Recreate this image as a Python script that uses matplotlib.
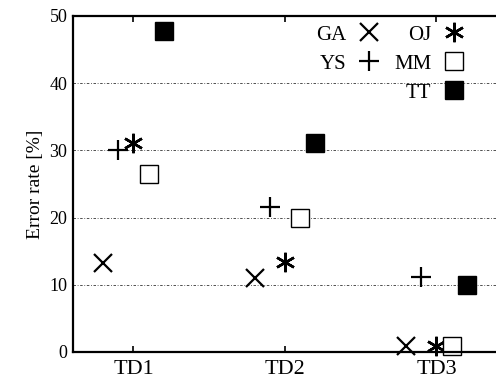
import numpy as np
import matplotlib
matplotlib.use('Agg')
import matplotlib.pyplot as plt
from matplotlib.lines import Line2D

plt.rcParams['font.family'] = ['Liberation Serif', 'DejaVu Serif']

# --- dados ---
datasets = ['TD1', 'TD2', 'TD3']
methods = ['GA', 'YS', 'OJ', 'MM', 'TT']
ga = [13.2, 11.0, 0.9]
ys = [30.0, 21.6, 11.2]
oj = [31.1, 13.4, 0.9]
mm = [26.5, 20.0, 0.9]
tt = [47.8, 31.1, 10.0]

series = [ga, ys, oj, mm, tt]
offsets = [-0.2, -0.1, 0.0, 0.1, 0.2]
estilos = [
    dict(marker='x', ms=13, mew=1.6, color='k'),
    dict(marker='+', ms=15, mew=1.6, color='k'),
    dict(marker=(6, 2, 0), ms=14, mew=1.8, color='k'),
    dict(marker='s', ms=13, mew=1.0, mfc='white', mec='k'),
    dict(marker='s', ms=13, mew=1.0, mfc='k', mec='k'),
]

fig = plt.figure(figsize=(4.96, 3.8), dpi=100)
ax = fig.add_axes([0.147, 0.074, 0.855, 0.884])

x = np.arange(1, len(datasets) + 1)
handles = []
for vals, off, st, nome in zip(series, offsets, estilos, methods):
    h, = ax.plot(x + off, vals, linestyle='none', clip_on=False, label=nome, **st)
    handles.append(h)

ax.set_xlim(0.6, 3.4)
ax.set_ylim(0, 50)
ax.set_xticks(x)
ax.set_xticklabels(datasets, fontsize=16)
ax.set_yticks([0, 10, 20, 30, 40, 50])
ax.tick_params(axis='y', labelsize=13, length=0, pad=4)
ax.tick_params(axis='x', direction='in', top=True, length=4, width=1.2, pad=6)
ax.set_ylabel('Error rate [%]', fontsize=14, labelpad=4)

for lado in ['left', 'bottom', 'top']:
    ax.spines[lado].set_linewidth(1.6)
ax.spines['right'].set_visible(False)

ax.yaxis.grid(True, color='k', linestyle=(0, (3, 2, 1, 2)), linewidth=0.6, alpha=0.8)
ax.set_axisbelow(True)

# legenda em duas colunas (2 + 3)
vazio = Line2D([], [], linestyle='none', label=' ')
ordem = [handles[0], handles[1], vazio, handles[2], handles[3], handles[4]]
leg = ax.legend(handles=ordem, labels=[h.get_label() for h in ordem], ncol=2,
                markerfirst=False, frameon=False, fontsize=15,
                loc='upper right', bbox_to_anchor=(0.953, 1.01),
                handlelength=1.0, handletextpad=0.6, columnspacing=0.7,
                labelspacing=0.45, borderaxespad=0.2)

fig.savefig('out.png', dpi=100)
